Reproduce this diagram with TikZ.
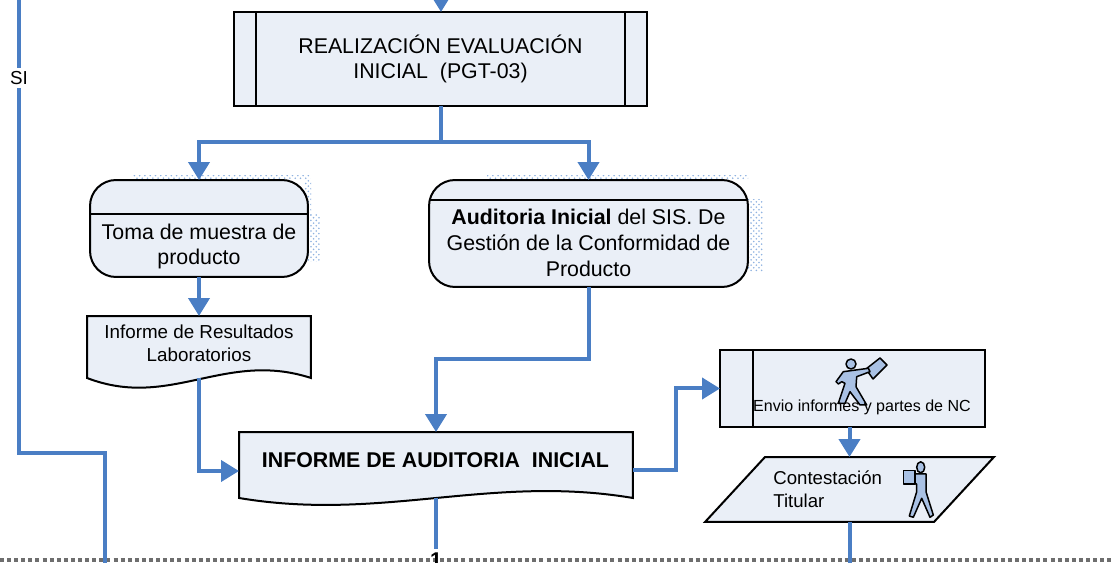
\documentclass[tikz,border=0pt]{standalone}
\usepackage{fontspec}
\setmainfont{Liberation Sans}
\usetikzlibrary{arrows.meta}
\usetikzlibrary{backgrounds}
\usetikzlibrary{patterns}
\definecolor{flowblue}{HTML}{4A7EC4}
\definecolor{boxfill}{HTML}{EAEFF7}
\definecolor{manfill}{HTML}{A9C1E4}
\definecolor{dotgray}{HTML}{6E6E6E}
\definecolor{shadeblue}{HTML}{8FB2E0}
\tikzset{
  flow/.style={draw=flowblue, line width=0.08cm},
  flowtip/.style={flow, -{Triangle[width=0.42cm, length=0.36cm]}},
  boxline/.style={draw=black, line width=0.04cm, fill=boxfill, line join=miter},
  rbox/.style={boxline, rectangle, rounded corners=0.52cm, outer sep=0, inner sep=0},
  pbox/.style={boxline, rectangle, outer sep=0, inner sep=0, align=center},
  dbox/.style={rectangle, outer sep=0, inner sep=0},
  txta/.style={align=center, inner sep=0, font=\fontsize{12.15}{14.7}\selectfont},
  txtb/.style={align=center, inner sep=0, font=\fontsize{10.7}{13}\selectfont},
  txtc/.style={align=left, inner sep=0, font=\fontsize{10.6}{13}\selectfont},
  txtd/.style={inner sep=0, font=\fontsize{9.13}{10}\selectfont},
  txte/.style={inner sep=0, font=\bfseries\fontsize{12.15}{14}\selectfont},
  man/.style={draw=black, line width=0.03cm, fill=manfill, line join=round},
  shade/.style={pattern=crosshatch dots, pattern color=shadeblue, draw=none},
}
\begin{document}
\begin{tikzpicture}[x=0.02cm, y=-0.02cm]
      \useasboundingbox (0, 0) rectangle (1112, 563);

      % dotted shadows behind the two rounded boxes
      \fill [shade] (133, 176) rectangle (310, 180);
      \fill [shade] (304, 180) rectangle (311, 215);
      \fill [shade] (306, 215) rectangle (320, 262);
      \fill [shade] (487, 176) rectangle (748, 180);
      \fill [shade] (745, 200) rectangle (763, 272);

      \node [pbox, minimum width=8.26cm, minimum height=1.88cm, txta,
        path picture={
          \draw [line width=0.04cm] ([xshift=0.44cm]path picture bounding box.north west) -- ([xshift=0.44cm]path picture bounding box.south west);
          \draw [line width=0.04cm] ([xshift=-0.44cm]path picture bounding box.north east) -- ([xshift=-0.44cm]path picture bounding box.south east);
        }] (realiz) at (440.5, 59) {REALIZACIÓN EVALUACIÓN\\INICIAL~ (PGT-03)};

      \node [rbox, minimum width=4.36cm, minimum height=1.94cm] (toma) at (199, 228.5) {};
      \draw [line width=0.04cm] (toma.west |- 0, 214) -- (toma.east |- 0, 214);
      \node [txta] (tomatxt) at (199, 246.5) {Toma de muestra de\\producto};

      \node [rbox, minimum width=6.38cm, minimum height=2.14cm] (audit) at (588.5, 233.5) {};
      \draw [line width=0.04cm] (audit.west |- 0, 200) -- (audit.east |- 0, 200);
      \node [txta] (audittxt) at (588.5, 243) {\textbf{Auditoria Inicial} del SIS. De\\Gestión de la Conformidad de\\Producto};

      \node [dbox, minimum width=4.48cm, minimum height=1.24cm] (result) at (199, 347) {};
      \node [dbox, minimum width=7.88cm, minimum height=1.32cm] (inform) at (436, 465) {};
      \begin{scope}[on background layer]
        \draw [boxline] (result.south west) -- (result.north west) -- (result.north east) -- (result.south east)
          .. controls (225, 350) and (170, 410) .. (result.south west) -- cycle;
        \draw [boxline] (inform.south west) -- (inform.north west) -- (inform.north east) -- (inform.south east)
          .. controls (490, 474) and (382, 522) .. (inform.south west) -- cycle;
      \end{scope}
      \node [txtb] (resulttxt) at (199, 343.5) {Informe de Resultados\\Laboratorios};
      \node [txte] (informtxt) at (435.5, 460) {INFORME DE AUDITORIA~ INICIAL};

      \node [pbox, minimum width=5.3cm, minimum height=1.54cm,
        path picture={
          \draw [line width=0.04cm] ([xshift=0.66cm]path picture bounding box.north west) -- ([xshift=0.66cm]path picture bounding box.south west);
        }] (envio) at (852.5, 388.5) {};
      \node [dbox, minimum width=5.78cm, minimum height=1.3cm] (contest) at (849.5, 489.5) {};
      \draw [boxline] ([xshift=1.2cm]contest.north west) -- (contest.north east) -- ([xshift=-1.2cm]contest.south east) -- (contest.south west) -- cycle;

      % little men
      \filldraw [man] (851, 364) circle (5);
      \filldraw [man] (866, 369) -- (880, 358) -- (887, 365) -- (873, 379) -- cycle;
      \filldraw [man] (843.3, 371.7) -- (868.3, 368.3) -- (870, 371.7) -- (856.7, 376.7) -- (856, 386.7) -- (866.7, 405)
        -- (860, 405) -- (850, 391.7) -- (845, 403.3) -- (838.3, 403.3) -- (845, 383.3) -- (841.7, 381.7) -- (838.3, 384) -- (836, 381.7) -- cycle;
      \filldraw [man] (920.7, 467.3) ellipse [x radius=4, y radius=5.5];
      \filldraw [man] (903.3, 470.7) rectangle (915, 484);
      \filldraw [man] (915, 474) -- (926, 474) -- (926, 491.7) -- (933.3, 515) -- (930, 517.3) -- (921.7, 498.3) -- (913.3, 517.3)
        -- (909.3, 516) -- (916.7, 491.7) -- (916.7, 484) -- (915, 484) -- cycle;

      \node [txtd] (enviotxt) at (862, 407) {Envio informes y partes de NC};
      \node [txtc, anchor=west] (contesttxt) at (773, 489) {Contestación\\Titular};

      \draw [dotgray, line width=0.07cm, dash pattern=on 0.08cm off 0.062cm] (0, 560) -- (1112, 560);

      \coordinate (topin) at (441, 0);
      \coordinate (split) at (441, 142);
      \coordinate (sitop) at (19, 0);
      \coordinate (sibend) at (19, 453);
      \coordinate (sidown) at (105, 563);
      \coordinate (infin) at (239, 471);
      \coordinate (infout) at (633, 470);
      \coordinate (contdown) at (849.5, 563);

      \node [txtb, anchor=north, outer sep=0.08cm] (uno) at (436, 549) {\textbf{\fontsize{12.15}{14}\selectfont 1}};

      \draw [flowtip] (topin) -- (realiz.north -| topin);
      \draw [flow] (realiz.south -| split) -- (split);
      \draw [flowtip] (split) -| (toma.north);
      \draw [flowtip] (split) -| (audit.north);
      \draw [flowtip] (toma.south) -- (result.north);
      \draw [flowtip] (result.south) |- (infin);
      \draw [flowtip] (audit.south) -- ++(0, 72) -| (inform.north);
      \draw [flowtip] (infout) -- ++(43, 0) |- (envio.west);
      \draw [flowtip] (envio.south -| contest.north) -- (contest.north);
      \draw [flow] (contest.south) -- (contdown);
      \draw [flow] (inform.south) -- (uno.north);
      \draw [flow] (sitop) -- (sibend) -| (sidown);

      \node [txtd, fill=white, inner sep=0.06cm, font=\fontsize{10.7}{12}\selectfont] (si) at (19, 78) {SI};
    \end{tikzpicture}
\end{document}
